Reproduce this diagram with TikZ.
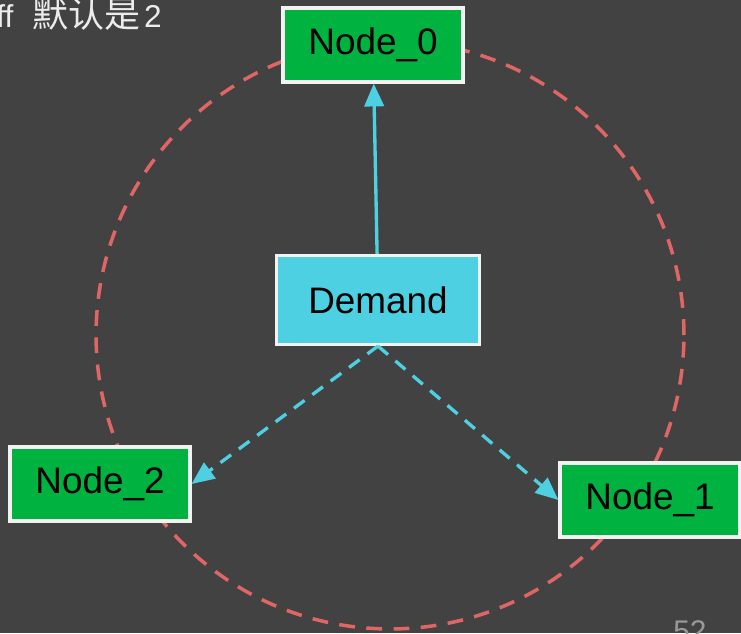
\documentclass[tikz,border=0pt]{standalone}
\usepackage{fontspec}
\setmainfont{Liberation Sans}
\newfontfamily\cjk{Noto Sans CJK SC}
\usetikzlibrary{arrows.meta}

\definecolor{slidebg}{RGB}{66,66,66}
\definecolor{nodegreen}{RGB}{0,178,64}
\definecolor{demandcyan}{RGB}{77,208,225}
\definecolor{ringred}{RGB}{224,102,102}
\definecolor{notegray}{RGB}{236,236,236}

\tikzset{
  hostbox/.style={draw=white!95!black,line width=1.8pt,fill=nodegreen,font=\fontsize{21}{25}\selectfont,
    minimum width=3.6cm,minimum height=1.48cm,inner sep=0pt},
  demandbox/.style={hostbox,fill=demandcyan,minimum width=4.06cm,minimum height=1.78cm},
  ring/.style={ringred,line width=2pt,dash pattern=on 9pt off 6.5pt},
  pick/.style={->,demandcyan,line width=1.9pt},
  maybe/.style={pick,dash pattern=on 7.5pt off 5.5pt},
}

\begin{document}
\begin{tikzpicture}[x=0.02cm,y=-0.02cm,>={Triangle[length=13pt,width=11pt]}]
  \fill[slidebg] (0,0) rectangle (741,633);
  \useasboundingbox (0,0) rectangle (741,633);
  \clip (0,0) rectangle (741,633);
  % ring of hosts
  \draw[ring] (390,335) circle[radius=5.88cm];
  \node[anchor=base west,text=notegray,inner sep=0pt,font=\fontsize{18}{22}\selectfont] (note) at (-4,27) {ff\hspace{11pt}{\cjk\fontsize{20.5}{22}\selectfont 默认是}\hspace{2pt}2};
  \node[anchor=base west,text=gray!80,inner sep=0pt,font=\fontsize{17}{20}\selectfont] (page) at (673,641) {52};
  \node[hostbox] (node0) at (373,45) {Node\_0};
  \node[demandbox] (demand) at (378,300) {Demand};
  \node[hostbox] (node2) at (100,484) {Node\_2};
  \node[hostbox] (node1) at (650,500) {Node\_1};
  \draw[pick] (demand) -- (node0);
  \draw[maybe] (demand.south) -- (node2.east);
  \draw[maybe] (demand.south) -- (node1.west);
\end{tikzpicture}
\end{document}
